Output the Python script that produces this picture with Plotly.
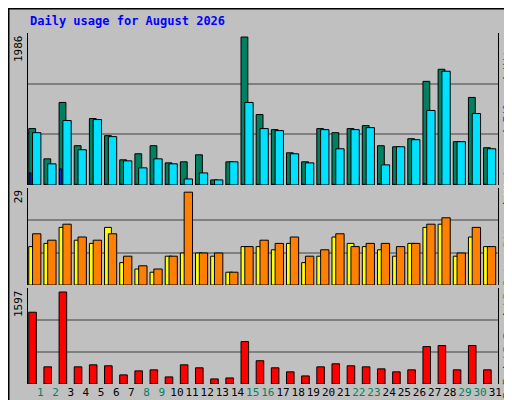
import plotly.graph_objects as go

days = list(range(1, 32))
hits = [757,351,1108,527,892,662,338,419,527,297,311,405,68,311,1986,946,743,432,311,757,702,757,797,527,513,621,1391,1553,581,1175,500]
files = [702,284,865,473,878,649,324,230,351,284,81,162,68,311,1108,757,730,419,297,743,486,743,770,270,513,608,1000,1527,581,959,486]
pages = [162,10,216,10,10,10,10,10,10,10,10,10,10,10,10,10,10,10,10,10,10,10,10,20,10,10,20,10,10,20,10]
visits = [12,13,18,14,13,18,7,5,4,9,10,10,9,4,12,12,11,13,7,9,15,13,12,11,9,13,18,19,9,15,12]
sites = [16,14,19,15,14,16,9,6,5,9,29,10,10,4,12,14,13,15,9,11,16,12,13,13,12,13,19,21,10,18,12]
kbytes = [1246,298,1597,298,333,316,158,228,246,123,333,281,88,105,737,404,281,211,140,298,351,316,298,263,211,246,649,667,246,667,246]
weekend = {1,2,8,9,15,16,22,23,29,30}
ticktext = [f"<span style='color:{'#008060' if d in weekend else 'black'}'>{d}</span>" for d in days]

fig = go.Figure()
def bar(y, color, off, w, ax):
    fig.add_trace(go.Bar(x=days, y=y, marker=dict(color=color, line=dict(color='black', width=1)),
                         offset=off, width=w, yaxis=ax, xaxis='x'))
bar(hits, '#008060', -0.45, 0.45, 'y')
bar(files, '#00E0FF', -0.2, 0.55, 'y')
bar(pages, '#0040FF', -0.42, 0.12, 'y')
bar(visits, '#FFFF00', -0.45, 0.45, 'y2')
bar(sites, '#FF8000', -0.2, 0.55, 'y2')
bar(kbytes, '#FF0000', -0.45, 0.5, 'y3')

m1 = max(hits) * 151 / 147
m2 = max(sites) * 96 / 92
m3 = max(kbytes) * 96 / 92
def yax(dom, top):
    return dict(domain=dom, range=[0, top], tickvals=[top/3, 2*top/3], showticklabels=False,
                gridcolor='#808080', gridwidth=1.5, showline=True, linecolor='black', mirror=True,
                zeroline=False, fixedrange=True, anchor='x', automargin=False)

fig.update_layout(
    width=512, height=400, margin=dict(l=20, r=22, t=25, b=24, autoexpand=False),
    paper_bgcolor='#C0C0C0', plot_bgcolor='#C0C0C0', showlegend=False, barmode='overlay',
    font=dict(family='DejaVu Sans Mono', size=11, color='black'),
    xaxis=dict(range=[0.5, 31.5], tickvals=[d + 0.32 for d in days], ticktext=ticktext,
               showgrid=False, ticks='', showline=False, tickfont=dict(size=11), tickangle=0,
               anchor='y3', automargin=False),
    yaxis=yax([0.567, 1], m1),
    yaxis2=yax([0.282, 0.558], m2),
    yaxis3=yax([0, 0.2735], m3),
)
# outer frame
fig.add_shape(type='rect', xref='paper', yref='paper', x0=-19.5/470, x1=491.5/470,
              y0=-23.5/351, y1=1+24.5/351, line=dict(color='black', width=2))
fig.add_shape(type='line', xref='paper', yref='paper', x0=488/470, x1=488/470,
              y0=-21/351, y1=1+22/351, line=dict(color='#808080', width=4))
fig.add_shape(type='line', xref='paper', yref='paper', x0=-18/470, x1=490/470,
              y0=-21/351, y1=-21/351, line=dict(color='#808080', width=4))

fig.add_annotation(text='<b>Daily usage for August 2026</b>', xref='paper', yref='paper',
                   x=0, y=1+12/351, xanchor='left', yanchor='middle', showarrow=False,
                   font=dict(color='#0000FF', size=12))
for txt, yy in [(str(max(hits)), 1), (str(max(sites)), 0.558), (str(max(kbytes)), 0.2735)]:
    fig.add_annotation(text=txt, xref='paper', yref='paper', x=0, xshift=-1, y=yy, xanchor='right',
                       yanchor='top', textangle=-90, showarrow=False, font=dict(size=11))
rl = [("<span style='color:#00C0FF'>Pages</span> / <span style='color:#0040FF'>Files</span> / <span style='color:#008060'>Hits</span>", 0.783),
      ("<span style='color:#FF8000'>Sites</span> / <span style='color:#FFFF00'>Visits</span>", 0.52),
      ("<span style='color:#FF0000'>kB F</span> / <span style='color:#0080FF'>kB In</span> / <span style='color:#00C000'>kB Out</span>", 0.137)]
for txt, yy in rl:
    fig.add_annotation(text=txt, xref='paper', yref='paper', x=1, xshift=1, y=yy, xanchor='left',
                       yanchor='middle', textangle=-90, showarrow=False, font=dict(size=11))

fig.write_html("out.html")
